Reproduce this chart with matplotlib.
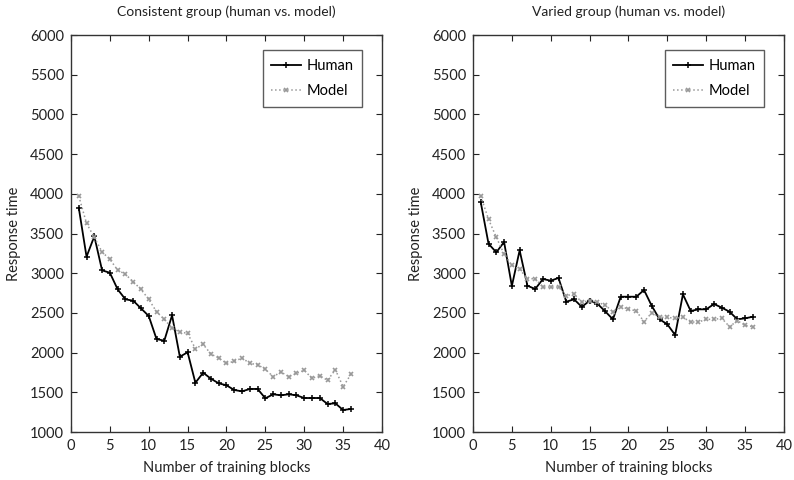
import matplotlib
matplotlib.use("Agg")
import matplotlib.pyplot as plt

plt.rcParams["font.family"] = ["Lato", "DejaVu Sans"]

blocks = list(range(1, 37))

consistent_human = [3825, 3208, 3465, 3036, 3006, 2797, 2671, 2654, 2558, 2461,
                    2171, 2150, 2470, 1948, 2004, 1620, 1747, 1671, 1613, 1588,
                    1529, 1512, 1542, 1542, 1424, 1475, 1462, 1475, 1462, 1428,
                    1428, 1428, 1353, 1361, 1277, 1290]
consistent_model = [3972, 3628, 3452, 3267, 3175, 3040, 2986, 2893, 2797, 2671,
                    2515, 2419, 2310, 2259, 2243, 2049, 2104, 1982, 1932, 1865,
                    1890, 1932, 1865, 1848, 1790, 1697, 1756, 1697, 1739, 1777,
                    1676, 1709, 1651, 1785, 1570, 1727]

varied_human = [3893, 3371, 3263, 3393, 2839, 3288, 2843, 2801, 2927, 2906,
                2940, 2641, 2671, 2576, 2654, 2616, 2520, 2419, 2704, 2704,
                2704, 2788, 2587, 2419, 2356, 2222, 2734, 2524, 2545, 2545,
                2612, 2566, 2515, 2419, 2432, 2452]
varied_model = [3972, 3679, 3452, 3242, 3099, 3049, 2931, 2931, 2826, 2826,
                2826, 2717, 2738, 2635, 2654, 2635, 2598, 2515, 2578, 2549,
                2524, 2389, 2503, 2444, 2444, 2432, 2444, 2385, 2385, 2419,
                2419, 2432, 2326, 2402, 2344, 2326]

titles = ["Consistent group (human vs. model)", "Varied group (human vs. model)"]
panels = [(consistent_human, consistent_model), (varied_human, varied_model)]

fig = plt.figure(figsize=(7.94, 4.8), dpi=100)
lefts = [0.0894, 0.5957]

for left, title, (human, model) in zip(lefts, titles, panels):
    ax = fig.add_axes([left, 0.1, 0.3917, 0.827])
    ax.plot(blocks, human, "-", color="black", lw=1.3, marker="+",
            markersize=5, markeredgewidth=1.1, label="Human")
    ax.plot(blocks, model, ":", color="#999999", lw=1.1, marker="x",
            markersize=3.5, markeredgewidth=1.2, label="Model")
    ax.set_xlim(0, 40)
    ax.set_ylim(1000, 6000)
    ax.set_xticks(range(0, 41, 5))
    ax.set_yticks(range(1000, 6001, 500))
    ax.tick_params(direction="in", top=True, right=True, length=4, pad=5,
                   labelsize=10.5, colors="#222222")
    for s in ax.spines.values():
        s.set_color("#333333")
        s.set_linewidth(1.0)
    ax.set_title(title, fontsize=10, pad=14, color="#222222")
    ax.set_xlabel("Number of training blocks", fontsize=10.5, color="#222222",
                  labelpad=6)
    ax.set_ylabel("Response time", fontsize=10.5, color="#222222", labelpad=6)
    leg = ax.legend(loc="upper right", bbox_to_anchor=(0.936, 0.962),
                    borderaxespad=0, fontsize=10.5, frameon=True, fancybox=False,
                    borderpad=0.6, handlelength=2.0, handletextpad=0.4,
                    labelspacing=0.75)
    leg.get_frame().set_edgecolor("#333333")
    leg.get_frame().set_linewidth(1.0)

fig.savefig("out.png", dpi=100)
